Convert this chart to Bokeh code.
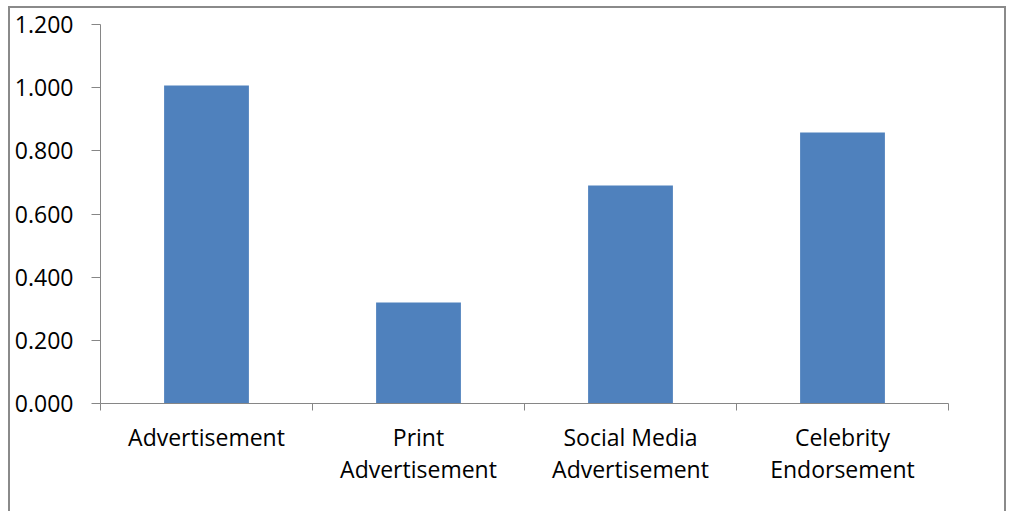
from bokeh.plotting import figure
from bokeh.models import Range1d, FixedTicker, NumeralTickFormatter, ColumnDataSource
from bokeh.embed import file_html
from bokeh.resources import INLINE

categories = ["Advertisement", "Print\nAdvertisement", "Social Media\nAdvertisement", "Celebrity\nEndorsement"]
values = [1.007, 0.320, 0.690, 0.858]
y_ticks = [0.0, 0.2, 0.4, 0.6, 0.8, 1.0, 1.2]

n = len(categories)
positions = [i + 0.5 for i in range(n)]
boundaries = [float(i) for i in range(n + 1)]
src = ColumnDataSource(dict(x=positions, top=values))

AXIS = "#868686"

p = figure(width=998, height=505, output_backend="svg", toolbar_location=None,
           x_range=Range1d(0, n), y_range=Range1d(0, 1.2),
           min_border_left=90, min_border_right=60, min_border_top=16, min_border_bottom=110)
p.styles = {"margin-left": "8px", "margin-top": "6px",
            "border-top": "2px solid #8a8a8a", "border-left": "2px solid #8a8a8a",
            "border-right": "2px solid #8a8a8a"}
p.outline_line_color = None
p.grid.visible = False

p.vbar(x="x", top="top", width=0.4, source=src, fill_color="#4F81BD", line_color=None)

xa = p.xaxis[0]
xa.ticker = FixedTicker(ticks=positions, minor_ticks=boundaries)
xa.major_label_overrides = {pos: lab for pos, lab in zip(positions, categories)}
xa.major_tick_out = 0
xa.major_tick_in = 0
xa.minor_tick_out = 7
xa.minor_tick_in = 0
xa.minor_tick_line_color = AXIS
xa.major_label_standoff = 10
xa.major_label_text_line_height = 1.0

ya = p.yaxis[0]
ya.ticker = FixedTicker(ticks=y_ticks)
ya.formatter = NumeralTickFormatter(format="0.000")
ya.major_tick_out = 9
ya.major_tick_in = 0
ya.minor_tick_line_color = None
ya.major_label_standoff = 18

for ax in (xa, ya):
    ax.axis_line_color = AXIS
    ax.major_tick_line_color = AXIS
    ax.major_label_text_font = "Open Sans"
    ax.major_label_text_font_size = "23px"
    ax.major_label_text_color = "black"

open("out.html", "w").write(file_html(p, INLINE))
